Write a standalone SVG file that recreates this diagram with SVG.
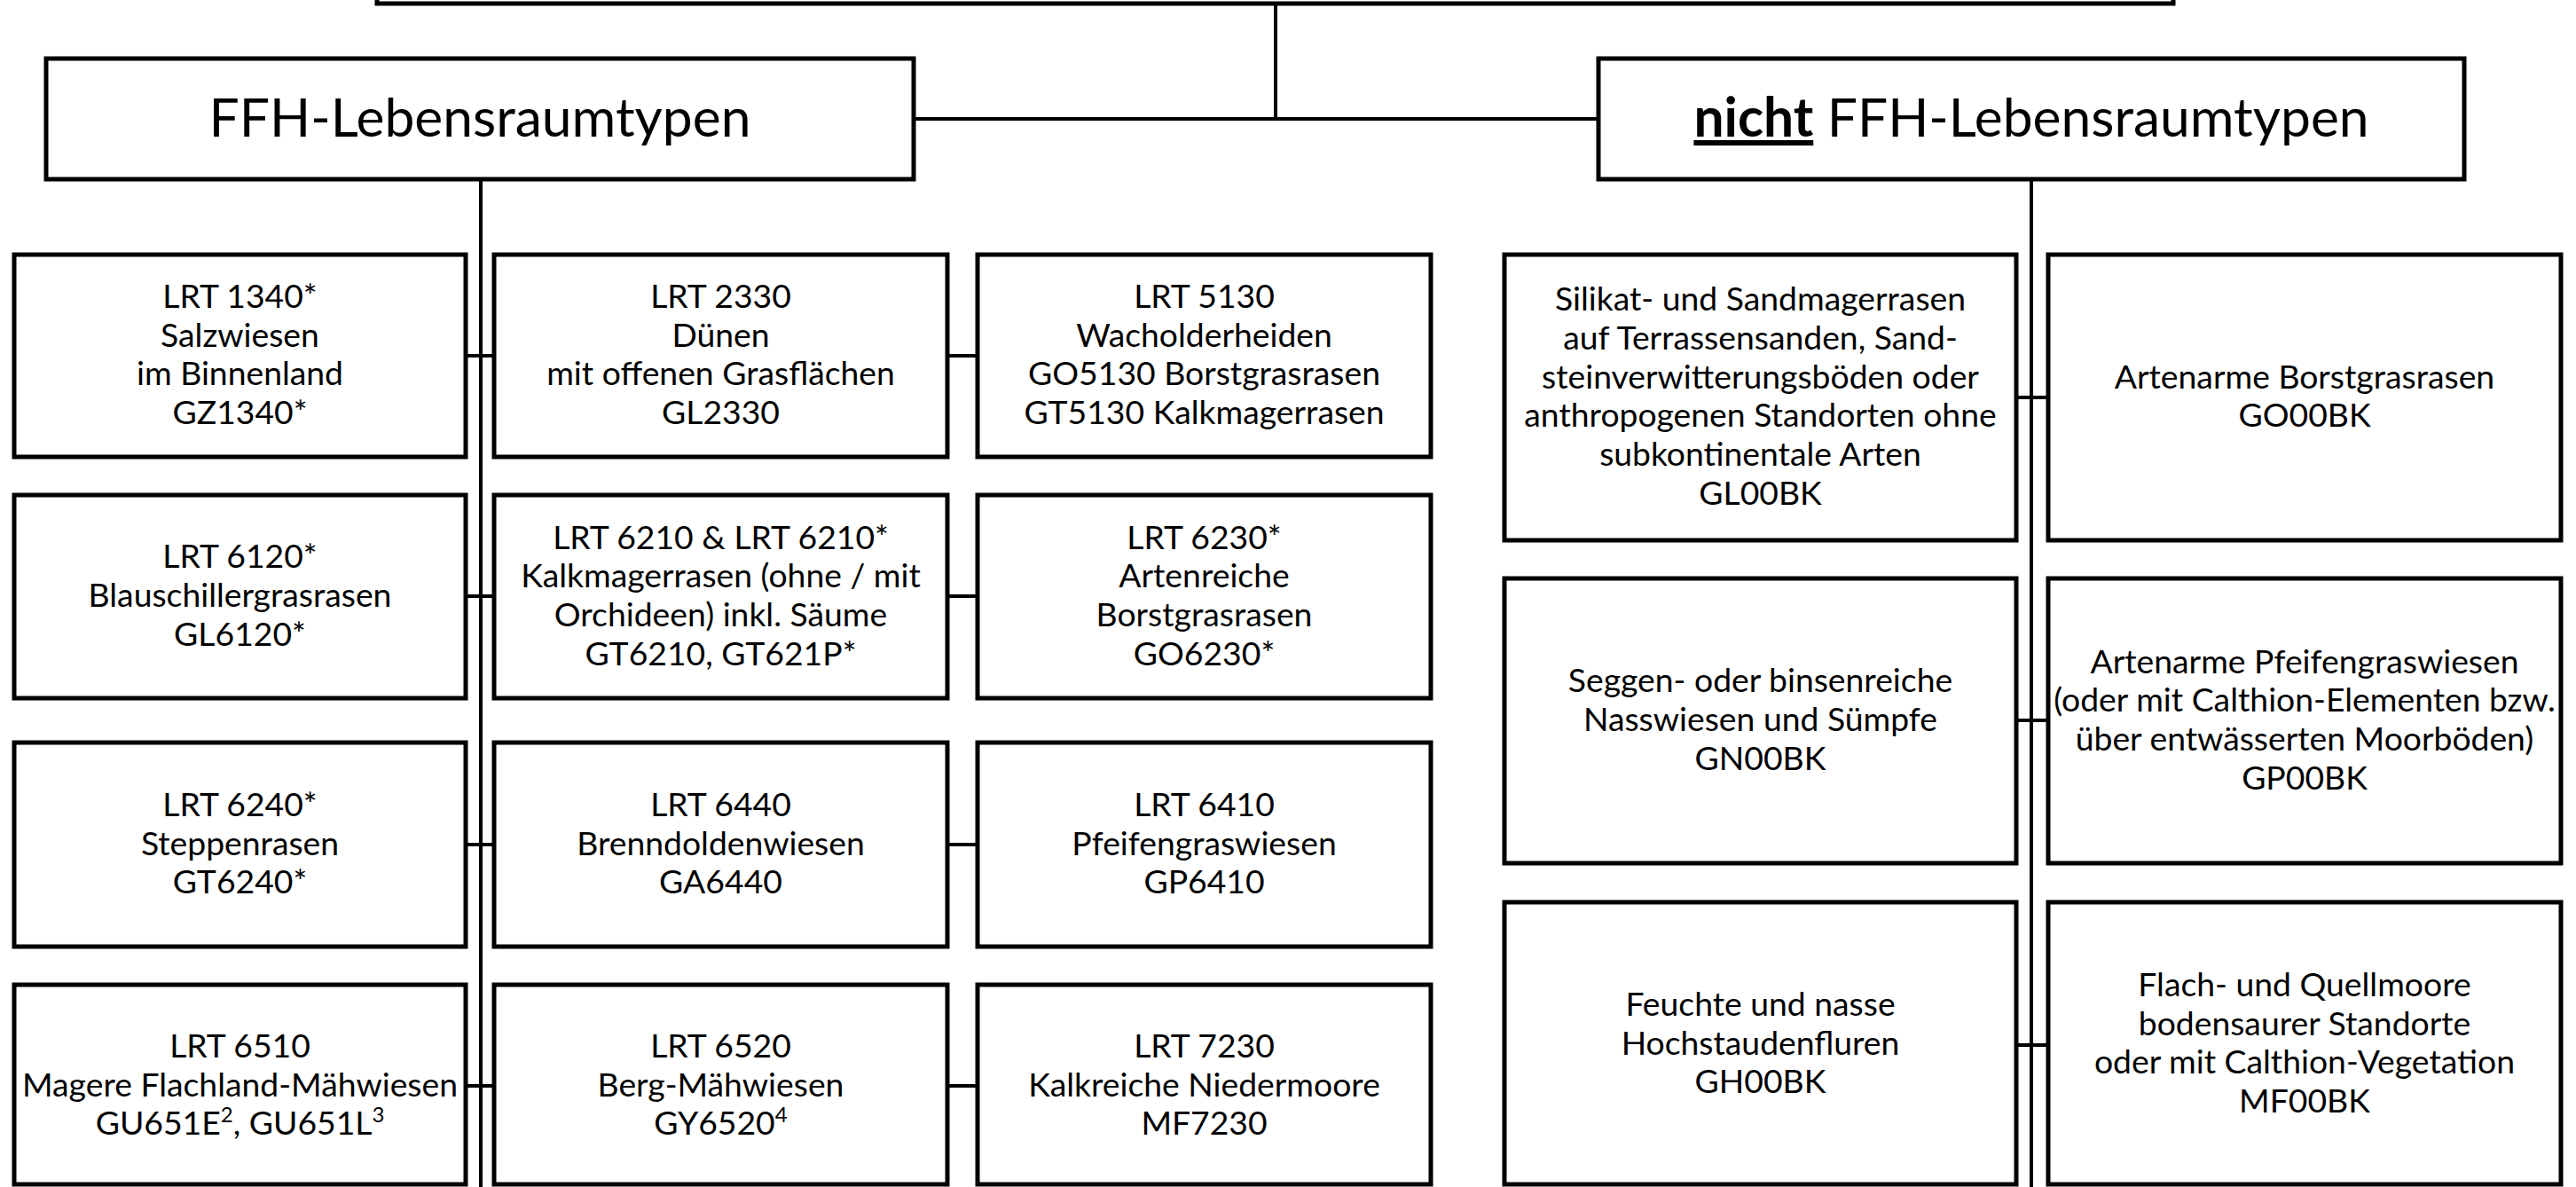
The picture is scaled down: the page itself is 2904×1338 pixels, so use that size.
<svg xmlns="http://www.w3.org/2000/svg" width="2904" height="1338" viewBox="0 0 2904 1338">
<style>
.box{fill:#fff;stroke:#000;stroke-width:5}
.con{fill:none;stroke:#000;stroke-width:4}
.t{font-family:Lato,"Open Sans","Liberation Sans",sans-serif;font-size:37.3px;text-anchor:middle;fill:#000}
.h{font-family:Lato,"Open Sans","Liberation Sans",sans-serif;font-size:60.5px;text-anchor:middle;fill:#000}
</style>
<rect width="2904" height="1338" fill="#fff"/>
<g id="connectors">
<path class="con" d="M1438 4V134M1030 134H1802M542 202V1338M2290 202V1338"/>
<path class="con" d="M525 401H557M1068 401H1102M525 672H557M1068 672H1102M525 952H557M1068 952H1102M525 1224H557M1068 1224H1102"/>
<path class="con" d="M2273 448H2309M2273 812H2309M2273 1178H2309"/>
</g>
<g id="root"><rect class="box" x="425" y="-20" width="2025" height="24"/></g>
<g id="ffh"><rect class="box" x="52" y="66" width="978" height="136"/><text class="h" x="541" y="154">FFH-Lebensraumtypen</text></g>
<g id="nicht-ffh"><rect class="box" x="1802" y="66" width="976" height="136"/><text class="h" x="2290" y="154"><tspan font-weight="bold" text-decoration="underline">nicht</tspan> FFH-Lebensraumtypen</text></g>

<g id="lrt1340"><rect class="box" x="16" y="287" width="509" height="228"/><text class="t" y="347"><tspan x="270.5">LRT 1340*</tspan><tspan x="270.5" dy="43.7">Salzwiesen</tspan><tspan x="270.5" dy="43.7">im Binnenland</tspan><tspan x="270.5" dy="43.7">GZ1340*</tspan></text></g>
<g id="lrt2330"><rect class="box" x="557" y="287" width="511" height="228"/><text class="t" y="347"><tspan x="812.5">LRT 2330</tspan><tspan x="812.5" dy="43.7">Dünen</tspan><tspan x="812.5" dy="43.7">mit offenen Grasflächen</tspan><tspan x="812.5" dy="43.7">GL2330</tspan></text></g>
<g id="lrt5130"><rect class="box" x="1102" y="287" width="511" height="228"/><text class="t" y="347"><tspan x="1357.5">LRT 5130</tspan><tspan x="1357.5" dy="43.7">Wacholderheiden</tspan><tspan x="1357.5" dy="43.7">GO5130 Borstgrasrasen</tspan><tspan x="1357.5" dy="43.7">GT5130 Kalkmagerrasen</tspan></text></g>

<g id="lrt6120"><rect class="box" x="16" y="558" width="509" height="229"/><text class="t" y="640.3"><tspan x="270.5">LRT 6120*</tspan><tspan x="270.5" dy="43.7">Blauschillergrasrasen</tspan><tspan x="270.5" dy="43.7">GL6120*</tspan></text></g>
<g id="lrt6210"><rect class="box" x="557" y="558" width="511" height="229"/><text class="t" y="618.5"><tspan x="812.5">LRT 6210 &amp; LRT 6210*</tspan><tspan x="812.5" dy="43.7">Kalkmagerrasen (ohne / mit</tspan><tspan x="812.5" dy="43.7">Orchideen) inkl. Säume</tspan><tspan x="812.5" dy="43.7">GT6210, GT621P*</tspan></text></g>
<g id="lrt6230"><rect class="box" x="1102" y="558" width="511" height="229"/><text class="t" y="618.5"><tspan x="1357.5">LRT 6230*</tspan><tspan x="1357.5" dy="43.7">Artenreiche</tspan><tspan x="1357.5" dy="43.7">Borstgrasrasen</tspan><tspan x="1357.5" dy="43.7">GO6230*</tspan></text></g>

<g id="lrt6240"><rect class="box" x="16" y="837" width="509" height="230"/><text class="t" y="919.8"><tspan x="270.5">LRT 6240*</tspan><tspan x="270.5" dy="43.7">Steppenrasen</tspan><tspan x="270.5" dy="43.7">GT6240*</tspan></text></g>
<g id="lrt6440"><rect class="box" x="557" y="837" width="511" height="230"/><text class="t" y="919.8"><tspan x="812.5">LRT 6440</tspan><tspan x="812.5" dy="43.7">Brenndoldenwiesen</tspan><tspan x="812.5" dy="43.7">GA6440</tspan></text></g>
<g id="lrt6410"><rect class="box" x="1102" y="837" width="511" height="230"/><text class="t" y="919.8"><tspan x="1357.5">LRT 6410</tspan><tspan x="1357.5" dy="43.7">Pfeifengraswiesen</tspan><tspan x="1357.5" dy="43.7">GP6410</tspan></text></g>

<g id="lrt6510"><rect class="box" x="16" y="1110" width="509" height="225"/><text class="t" y="1191.8"><tspan x="270.5">LRT 6510</tspan><tspan x="270.5" dy="43.7">Magere Flachland-Mähwiesen</tspan><tspan x="270.5" dy="43.7">GU651E<tspan font-size="24" dy="-14">2</tspan><tspan dy="14">, GU651L</tspan><tspan font-size="24" dy="-14">3</tspan></tspan></text></g>
<g id="lrt6520"><rect class="box" x="557" y="1110" width="511" height="225"/><text class="t" y="1191.8"><tspan x="812.5">LRT 6520</tspan><tspan x="812.5" dy="43.7">Berg-Mähwiesen</tspan><tspan x="812.5" dy="43.7">GY6520<tspan font-size="24" dy="-14">4</tspan></tspan></text></g>
<g id="lrt7230"><rect class="box" x="1102" y="1110" width="511" height="225"/><text class="t" y="1191.8"><tspan x="1357.5">LRT 7230</tspan><tspan x="1357.5" dy="43.7">Kalkreiche Niedermoore</tspan><tspan x="1357.5" dy="43.7">MF7230</tspan></text></g>

<g id="gl00bk"><rect class="box" x="1696" y="287" width="577" height="322"/><text class="t" y="350.3"><tspan x="1984.5">Silikat- und Sandmagerrasen</tspan><tspan x="1984.5" dy="43.7">auf Terrassensanden, Sand-</tspan><tspan x="1984.5" dy="43.7">steinverwitterungsböden oder</tspan><tspan x="1984.5" dy="43.7">anthropogenen Standorten ohne</tspan><tspan x="1984.5" dy="43.7">subkontinentale Arten</tspan><tspan x="1984.5" dy="43.7">GL00BK</tspan></text></g>
<g id="go00bk"><rect class="box" x="2309" y="287" width="578" height="322"/><text class="t" y="437.7"><tspan x="2598">Artenarme Borstgrasrasen</tspan><tspan x="2598" dy="43.7">GO00BK</tspan></text></g>

<g id="gn00bk"><rect class="box" x="1696" y="652" width="577" height="321"/><text class="t" y="780.3"><tspan x="1984.5">Seggen- oder binsenreiche</tspan><tspan x="1984.5" dy="43.7">Nasswiesen und Sümpfe</tspan><tspan x="1984.5" dy="43.7">GN00BK</tspan></text></g>
<g id="gp00bk"><rect class="box" x="2309" y="652" width="578" height="321"/><text class="t" y="758.5"><tspan x="2598">Artenarme Pfeifengraswiesen</tspan><tspan x="2598" dy="43.7">(oder mit Calthion-Elementen bzw.</tspan><tspan x="2598" dy="43.7">über entwässerten Moorböden)</tspan><tspan x="2598" dy="43.7">GP00BK</tspan></text></g>

<g id="gh00bk"><rect class="box" x="1696" y="1017" width="577" height="318"/><text class="t" y="1144.8"><tspan x="1984.5">Feuchte und nasse</tspan><tspan x="1984.5" dy="43.7">Hochstaudenfluren</tspan><tspan x="1984.5" dy="43.7">GH00BK</tspan></text></g>
<g id="mf00bk"><rect class="box" x="2309" y="1017" width="578" height="318"/><text class="t" y="1123"><tspan x="2598">Flach- und Quellmoore</tspan><tspan x="2598" dy="43.7">bodensaurer Standorte</tspan><tspan x="2598" dy="43.7">oder mit Calthion-Vegetation</tspan><tspan x="2598" dy="43.7">MF00BK</tspan></text></g>
</svg>
